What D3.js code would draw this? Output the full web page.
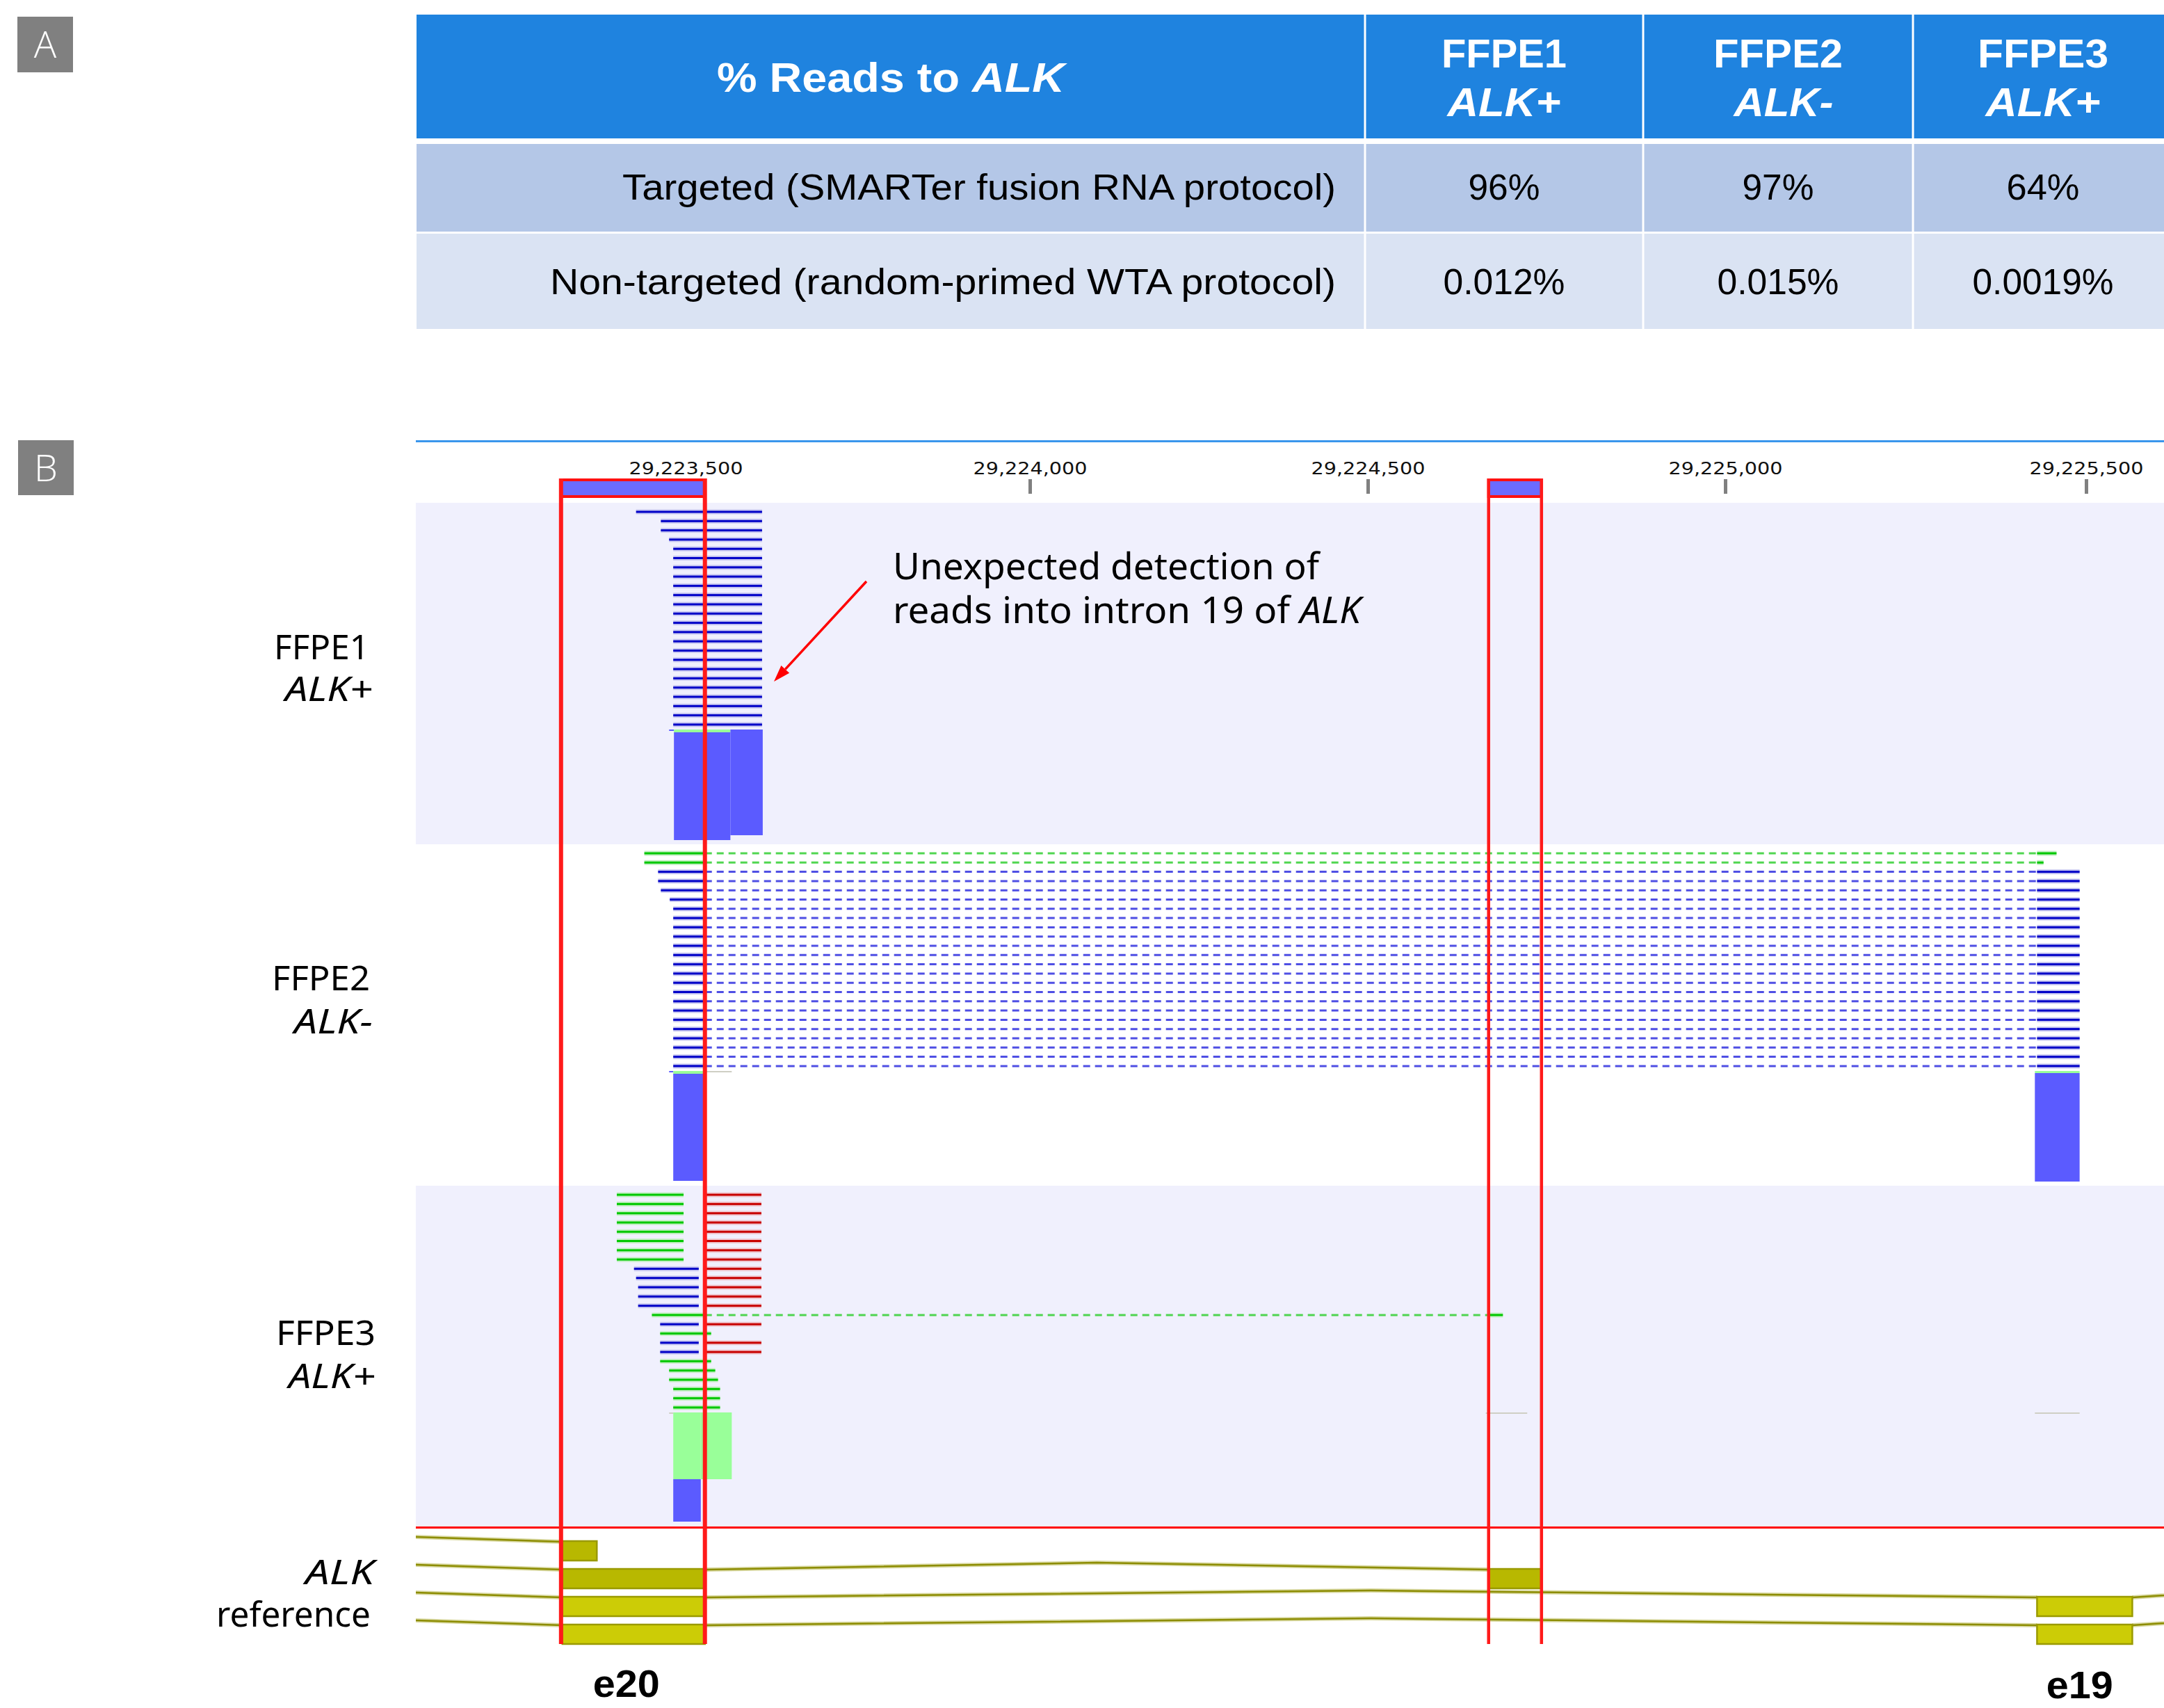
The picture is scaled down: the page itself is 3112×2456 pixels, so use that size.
<!DOCTYPE html>
<html><head><meta charset="utf-8">
<script src="https://cdn.jsdelivr.net/npm/d3@7"></script>
<style>body{margin:0;background:#fff} svg{display:block} text{white-space:pre}</style>
</head><body>
<script>
// ---------------- DATA ----------------
const tableSamples = ["FFPE1", "FFPE2", "FFPE3"];
const tableStatus = ["ALK+", "ALK-", "ALK+"];
const protocolRows = ["Targeted (SMARTer fusion RNA protocol)", "Non-targeted (random-primed WTA protocol)"];
const targetedValues = ["96%", "97%", "64%"];
const nonTargetedValues = ["0.012%", "0.015%", "0.0019%"];

const tickValues = [29223500, 29224000, 29224500, 29225000, 29225500];
const trackSamples = ["FFPE1", "FFPE2", "FFPE3"];
const trackStatus = ["ALK+", "ALK-", "ALK+"];
const highlightRegions = [[29223319, 29223528], [29224669, 29224743]];
const exonLabels = [["e20", 29223414], ["e19", 29225491]];

// reads: each row = list of reads [colour, blocks[[start,end],...]]
const ffpe1Reads = [
  [["b", [[29223428, 29223611]]]],
  [["b", [[29223464, 29223611]]]],
  [["b", [[29223464, 29223611]]]],
  [["b", [[29223476, 29223611]]]],
  [["b", [[29223482, 29223611]]]], [["b", [[29223482, 29223611]]]], [["b", [[29223482, 29223611]]]], [["b", [[29223482, 29223611]]]],
  [["b", [[29223482, 29223611]]]], [["b", [[29223482, 29223611]]]], [["b", [[29223482, 29223611]]]], [["b", [[29223482, 29223611]]]],
  [["b", [[29223482, 29223611]]]], [["b", [[29223482, 29223611]]]], [["b", [[29223482, 29223611]]]], [["b", [[29223482, 29223611]]]],
  [["b", [[29223482, 29223611]]]], [["b", [[29223482, 29223611]]]], [["b", [[29223482, 29223611]]]], [["b", [[29223482, 29223611]]]],
  [["b", [[29223482, 29223611]]]], [["b", [[29223482, 29223611]]]], [["b", [[29223482, 29223611]]]], [["b", [[29223482, 29223611]]]]
];
const ffpe2Reads = [
  [["g", [[29223440, 29223528], [29225432, 29225459]]]],
  [["g", [[29223440, 29223528], [29225432, 29225441]]]],
  [["b", [[29223460, 29223528], [29225432, 29225491]]]],
  [["b", [[29223460, 29223528], [29225432, 29225491]]]],
  [["b", [[29223464, 29223528], [29225432, 29225491]]]],
  [["b", [[29223477, 29223528], [29225432, 29225491]]]],
  [["b", [[29223482, 29223528], [29225432, 29225491]]]], [["b", [[29223482, 29223528], [29225432, 29225491]]]],
  [["b", [[29223482, 29223528], [29225432, 29225491]]]], [["b", [[29223482, 29223528], [29225432, 29225491]]]],
  [["b", [[29223482, 29223528], [29225432, 29225491]]]], [["b", [[29223482, 29223528], [29225432, 29225491]]]],
  [["b", [[29223482, 29223528], [29225432, 29225491]]]], [["b", [[29223482, 29223528], [29225432, 29225491]]]],
  [["b", [[29223482, 29223528], [29225432, 29225491]]]], [["b", [[29223482, 29223528], [29225432, 29225491]]]],
  [["b", [[29223482, 29223528], [29225432, 29225491]]]], [["b", [[29223482, 29223528], [29225432, 29225491]]]],
  [["b", [[29223482, 29223528], [29225432, 29225491]]]], [["b", [[29223482, 29223528], [29225432, 29225491]]]],
  [["b", [[29223482, 29223528], [29225432, 29225491]]]], [["b", [[29223482, 29223528], [29225432, 29225491]]]],
  [["b", [[29223482, 29223528], [29225432, 29225491]]]], [["b", [[29223482, 29223528], [29225432, 29225491]]]]
];
const ffpe3Reads = [
  [["g", [[29223400, 29223497]]], ["r", [[29223529, 29223610]]]],
  [["g", [[29223400, 29223497]]], ["r", [[29223529, 29223610]]]],
  [["g", [[29223400, 29223497]]], ["r", [[29223529, 29223610]]]],
  [["g", [[29223400, 29223497]]], ["r", [[29223529, 29223610]]]],
  [["g", [[29223400, 29223497]]], ["r", [[29223529, 29223610]]]],
  [["g", [[29223400, 29223497]]], ["r", [[29223529, 29223610]]]],
  [["g", [[29223400, 29223497]]], ["r", [[29223529, 29223610]]]],
  [["g", [[29223400, 29223497]]], ["r", [[29223529, 29223610]]]],
  [["b", [[29223425, 29223519]]], ["r", [[29223529, 29223610]]]],
  [["b", [[29223428, 29223519]]], ["r", [[29223529, 29223610]]]],
  [["b", [[29223431, 29223519]]], ["r", [[29223529, 29223610]]]],
  [["b", [[29223431, 29223519]]], ["r", [[29223529, 29223610]]]],
  [["b", [[29223431, 29223519]]], ["r", [[29223529, 29223610]]]],
  [["g", [[29223451, 29223528], [29224669, 29224689]]]],
  [["b", [[29223463, 29223519]]], ["r", [[29223529, 29223610]]]],
  [["g", [[29223463, 29223537]]]],
  [["b", [[29223463, 29223519]]], ["r", [[29223529, 29223610]]]],
  [["b", [[29223463, 29223519]]], ["r", [[29223529, 29223610]]]],
  [["g", [[29223463, 29223537]]]],
  [["g", [[29223476, 29223543]]]],
  [["g", [[29223476, 29223547]]]],
  [["g", [[29223482, 29223550]]]],
  [["g", [[29223482, 29223550]]]],
  [["g", [[29223482, 29223550]]]]
];
// coverage segments: [start, end, green depth, blue depth, grey depth]
const ffpe1Coverage = [
  [29223476, 29223483, 0, 2, 0],
  [29223483, 29223565, 4, 155, 0],
  [29223565, 29223612, 0, 152, 0]
];
const ffpe2Coverage = [
  [29223476, 29223482, 0, 2, 0],
  [29223482, 29223528, 4, 154, 0],
  [29223528, 29223567, 0, 0, 2],
  [29225429, 29225491, 3, 156, 0]
];
const ffpe3Coverage = [
  [29223476, 29223482, 0, 0, 2],
  [29223482, 29223522, 96, 61, 0],
  [29223522, 29223567, 96, 0, 0],
  [29224665, 29224723, 0, 0, 2],
  [29225429, 29225491, 0, 0, 2]
];
// ALK reference transcripts (exons in bp)
const refTranscripts = [
  [[29222650, 29222715], [29223321, 29223371]],
  [[29222650, 29222715], [29223321, 29223528], [29224669, 29224743]],
  [[29222650, 29222715], [29223321, 29223528], [29225432, 29225564], [29225858, 29225950]],
  [[29222650, 29222715], [29223321, 29223528], [29225432, 29225564], [29225858, 29225950]]
];
const refFills = ["#b8b800", "#b8b800", "#cccc06", "#cccc06"];

// ---------------- DRAWING ----------------
const W = 3112, H = 2456;
const svg = d3.select("body").append("svg").attr("width", W).attr("height", H);
svg.append("rect").attr("width", W).attr("height", H).attr("fill", "#fff");

function addText(parent, x, y, parts, o) {
  const t = parent.append("text").attr("x", x).attr("y", y)
    .attr("font-family", o.family || "'Liberation Sans', Arial, sans-serif")
    .attr("font-size", o.size).attr("font-weight", o.weight || "normal")
    .attr("fill", o.fill || "#000").attr("text-anchor", o.anchor || "start");
  if (o.len) t.attr("textLength", o.len).attr("lengthAdjust", "spacingAndGlyphs");
  const ps = typeof parts === "string" ? [[parts, !!o.italic]] : parts;
  ps.forEach(([s, it]) => t.append("tspan").attr("font-style", it ? "italic" : "normal").text(s));
  return t;
}

// panel letters
[["A", 25, 24, 80], ["B", 26, 633, 79]].forEach(([l, bx, by, bh]) => {
  svg.append("rect").attr("x", bx).attr("y", by).attr("width", 80).attr("height", bh).attr("fill", "#808080");
  addText(svg, bx + 40, by + bh / 2 + 19, l, {size: 54, fill: "#fff", anchor: "middle", family: "'Open Sans', sans-serif", weight: 300});
});

// ---------- Panel A table ----------
const colBounds = [599, 1963, 2363, 2751, 3125];
const colCenter = i => (colBounds[i] + colBounds[i + 1]) / 2;
const tbl = svg.append("g");
tbl.append("rect").attr("x", 599).attr("y", 21).attr("width", 2526).attr("height", 178).attr("fill", "#1f83df");
tbl.append("rect").attr("x", 599).attr("y", 207).attr("width", 2526).attr("height", 126).attr("fill", "#b4c7e7");
tbl.append("rect").attr("x", 599).attr("y", 336).attr("width", 2526).attr("height", 137).attr("fill", "#dae3f3");
tbl.selectAll("line.div").data(colBounds.slice(1, 4)).enter().append("line")
  .attr("x1", d => d).attr("x2", d => d).attr("y1", 21).attr("y2", 473)
  .attr("stroke", "#fff").attr("stroke-width", 3);

addText(tbl, colCenter(0), 132, [["% Reads to ", false], ["ALK", true]], {size: 60, weight: "bold", fill: "#fff", anchor: "middle", len: 500});
const hdrW = [[180, 163], [186, 143], [188, 165]];
tableSamples.forEach((s, i) => {
  addText(tbl, colCenter(i + 1), 97, s, {size: 58, weight: "bold", fill: "#fff", anchor: "middle", len: hdrW[i][0]});
  addText(tbl, colCenter(i + 1) + (i === 1 ? 8 : 0), 167, tableStatus[i], {size: 58, weight: "bold", fill: "#fff", anchor: "middle", italic: true, len: hdrW[i][1]});
});
const rowBase = [287, 423];
const rowW = [1026, 1130];
protocolRows.forEach((r, i) => addText(tbl, 1921, rowBase[i], r, {size: 52, anchor: "end", len: rowW[i]}));
const valW1 = [103, 103, 105], valW2 = [175, 175, 203];
targetedValues.forEach((v, i) => addText(tbl, colCenter(i + 1), rowBase[0], v, {size: 52, anchor: "middle", len: valW1[i]}));
nonTargetedValues.forEach((v, i) => addText(tbl, colCenter(i + 1), rowBase[1], v, {size: 52, anchor: "middle", len: valW2[i]}));

// ---------- Panel B genome view ----------
const x = d3.scaleLinear().domain(tickValues).range([986, 1481, 1967, 2481, 3000]);
const trackLeft = 598, trackRight = W;
svg.append("defs").append("clipPath").attr("id", "trk").append("rect")
  .attr("x", trackLeft).attr("y", 0).attr("width", trackRight - trackLeft).attr("height", H);

// top border line
svg.append("rect").attr("x", trackLeft).attr("y", 633).attr("width", trackRight - trackLeft).attr("height", 3).attr("fill", "#3a96ec");

// axis
const axisG = svg.append("g").attr("transform", "translate(0,710)")
  .call(d3.axisTop(x).tickValues(tickValues).tickFormat(d3.format(",")).tickSize(21).tickPadding(7));
axisG.select(".domain").remove();
axisG.selectAll(".tick line").attr("stroke", "#808080").attr("stroke-width", 5);
axisG.selectAll(".tick text").attr("font-family", "'DejaVu Sans', sans-serif").attr("font-size", 25)
  .attr("fill", "#111").attr("textLength", 164).attr("lengthAdjust", "spacingAndGlyphs");

// sample panels
const panelY = d3.scaleBand().domain(trackSamples).range([723, 2196]);
const trk = svg.append("g").attr("clip-path", "url(#trk)");
trk.selectAll("rect.panel").data(trackSamples).enter().append("rect")
  .attr("x", trackLeft).attr("width", trackRight - trackLeft)
  .attr("y", d => panelY(d)).attr("height", panelY.bandwidth())
  .attr("fill", (d, i) => i === 1 ? "#ffffff" : "#f0f0fd");

const readCol = {b: ["#0000c8", "#c6c6f0", "#3c3ce2"], g: ["#00c800", "#c2eec2", "#3ed23e"], r: ["#c80000", "#eec6cf", "#d23c3c"]};
const rowStep = 13.3;
function drawReads(top, rows) {
  const g = trk.append("g");
  rows.forEach((row, i) => {
    const y = top + 13 + i * rowStep;
    row.forEach(([c, blocks]) => {
      const col = readCol[c];
      for (let k = 1; k < blocks.length; k++) {
        g.append("line").attr("x1", x(blocks[k - 1][1])).attr("x2", x(blocks[k][0]))
          .attr("y1", y).attr("y2", y).attr("stroke", col[2]).attr("stroke-width", 3)
          .attr("stroke-dasharray", "10 7").attr("opacity", 0.9);
      }
      g.selectAll(null).data(blocks).enter().append("rect")
        .attr("x", d => x(d[0])).attr("width", d => x(d[1]) - x(d[0]))
        .attr("y", y - 3.5).attr("height", 7).attr("fill", col[1]);
      g.selectAll(null).data(blocks).enter().append("rect")
        .attr("x", d => x(d[0])).attr("width", d => x(d[1]) - x(d[0]))
        .attr("y", y - 1.5).attr("height", 3).attr("fill", col[0]);
    });
  });
}
const depth = d3.scaleLinear().domain([0, 160]).range([0, 160]);
function drawCoverage(top, segs) {
  const g = trk.append("g");
  segs.forEach(([s, e, gr, bl, gy]) => {
    let y = top;
    const x0 = x(s), w = x(e) - x(s);
    if (gr > 0) { g.append("rect").attr("x", x0).attr("y", y).attr("width", w).attr("height", depth(gr)).attr("fill", "#99ff99"); y += depth(gr); }
    if (bl > 0) { g.append("rect").attr("x", x0).attr("y", y).attr("width", w).attr("height", depth(bl)).attr("fill", "#5b5bff"); y += depth(bl); }
    if (gy > 0) { g.append("rect").attr("x", x0).attr("y", y).attr("width", w).attr("height", depth(gy)).attr("fill", "#cfcfc4"); }
  });
}
const allReads = [ffpe1Reads, ffpe2Reads, ffpe3Reads];
const allCov = [ffpe1Coverage, ffpe2Coverage, ffpe3Coverage];
trackSamples.forEach((s, i) => {
  const top = panelY(s);
  drawReads(top, allReads[i]);
  drawCoverage(top + 326, allCov[i]);
});

// reference transcripts
const refG = trk.append("g");
const refTop = 2216, refStep = 40, exH = 28, hat = 10;
refTranscripts.forEach((exons, i) => {
  const yT = refTop + i * refStep;
  for (let k = 1; k < exons.length; k++) {
    const a = x(exons[k - 1][1]), b = x(exons[k][0]), m = (a + b) / 2;
    const pts = [[a, yT + 1], [m, yT + 1 - hat], [b, yT + 1]];
    refG.append("path").attr("d", d3.line()(pts)).attr("fill", "none").attr("stroke", "#d8d8a0").attr("stroke-width", 6);
    refG.append("path").attr("d", d3.line()(pts)).attr("fill", "none").attr("stroke", "#8c8c00").attr("stroke-width", 2.5);
  }
  refG.selectAll(null).data(exons).enter().append("rect")
    .attr("x", d => x(d[0])).attr("width", d => x(d[1]) - x(d[0]))
    .attr("y", yT).attr("height", exH).attr("fill", refFills[i])
    .attr("stroke", "#9a9a00").attr("stroke-width", 2.5);
});

// red separator line
svg.append("rect").attr("x", trackLeft).attr("y", 2195).attr("width", trackRight - trackLeft).attr("height", 3).attr("fill", "#ff0000");

// highlight boxes (exon features + red frames)
const hlW = [6, 4.5];
highlightRegions.forEach(([s, e], i) => {
  const x0 = x(s), x1 = x(e);
  svg.append("rect").attr("x", x0).attr("y", 690).attr("width", x1 - x0).attr("height", 24)
    .attr("fill", "#6b6bff").attr("stroke", "#ff1010").attr("stroke-width", 4);
  [x0, x1].forEach(xx => svg.append("line").attr("x1", xx).attr("x2", xx).attr("y1", 688).attr("y2", 2364)
    .attr("stroke", "#ff1a1a").attr("stroke-width", hlW[i]));
});

// left labels
const lblPos = [[948, 1008, 531, 536, 137, 126], [1424, 1486, 532, 536, 141, 113], [1934, 1996, 540, 540, 143, 125]];
trackSamples.forEach((s, i) => {
  const [b1, b2, r1, r2, w1, w2] = lblPos[i];
  addText(svg, r1, b1, s, {size: 50, anchor: "end", family: "'Noto Sans', sans-serif", len: w1});
  addText(svg, r2, b2, trackStatus[i], {size: 50, anchor: "end", italic: true, family: "'Noto Sans', sans-serif", len: w2});
});
addText(svg, 538, 2278, "ALK", {size: 50, anchor: "end", italic: true, family: "'Noto Sans', sans-serif", len: 99});
addText(svg, 533, 2339, "reference", {size: 50, anchor: "end", family: "'Noto Sans', sans-serif", len: 222});

// exon labels
exonLabels.forEach(([l, pos], i) => addText(svg, x(pos), i === 0 ? 2440 : 2442, l,
  {size: 56, weight: "bold", anchor: "middle", len: 96}));

// annotation
addText(svg, 1284, 833, "Unexpected detection of", {size: 52, family: "'Noto Sans', sans-serif", len: 613});
addText(svg, 1284, 896, [["reads into intron 19 of ", false], ["ALK", true]], {size: 52, family: "'Noto Sans', sans-serif", len: 673});
const tip = [1113, 980], start = [1246, 836];
const dx = tip[0] - start[0], dy = tip[1] - start[1], L = Math.hypot(dx, dy);
const ux = dx / L, uy = dy / L, px = -uy, py = ux;
const base = [tip[0] - 24 * ux, tip[1] - 24 * uy];
svg.append("line").attr("x1", start[0]).attr("y1", start[1]).attr("x2", base[0]).attr("y2", base[1])
  .attr("stroke", "#ff0000").attr("stroke-width", 3.5);
svg.append("path").attr("d", d3.line()([tip, [base[0] + 8 * px, base[1] + 8 * py], [base[0] - 8 * px, base[1] - 8 * py]]) + "Z")
  .attr("fill", "#ff0000");
</script>
</body></html>
